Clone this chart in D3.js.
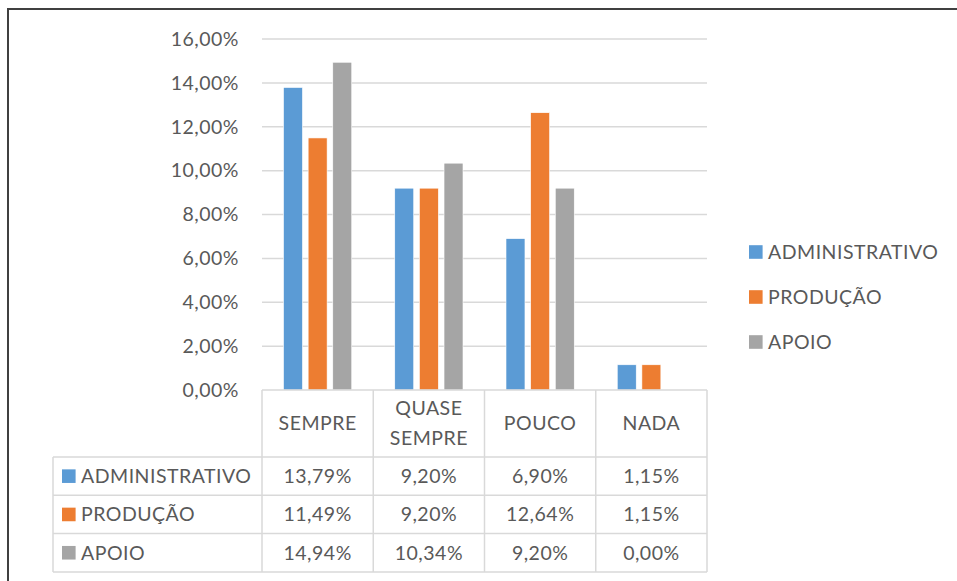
<!DOCTYPE html>
<html>
<head>
<meta charset="utf-8">
<script src="https://cdn.jsdelivr.net/npm/d3@7"></script>
<style>
  body { margin: 0; background: #fff; }
  text { font-family: Lato, "Open Sans", sans-serif; fill: #595959; letter-spacing: 0.5px; }
</style>
</head>
<body>
<div id="chart"></div>
<script>
var categories = ['SEMPRE', 'QUASE SEMPRE', 'POUCO', 'NADA'];
var categoryLines = [['SEMPRE'], ['QUASE', 'SEMPRE'], ['POUCO'], ['NADA']];
var seriesNames = ['ADMINISTRATIVO', 'PRODUÇÃO', 'APOIO'];
var administrativo = [13.79, 9.20, 6.90, 1.15];
var producao = [11.49, 9.20, 12.64, 1.15];
var apoio = [14.94, 10.34, 9.20, 0.00];
var yTicks = [0, 2, 4, 6, 8, 10, 12, 14, 16];
var colors = ['#5b9bd5', '#ed7d31', '#a5a5a5'];

var seriesValues = [administrativo, producao, apoio];

var W = 957, H = 581;
var plotL = 262, plotR = 707, plotT = 39, plotB = 390;
var rowH = 38.3, headerH = 67, tableL = 53;
var fs = '19.5px';

var fmt = function (v) { return v.toFixed(2).replace('.', ',') + '%'; };

var svg = d3.select('#chart').append('svg').attr('width', W).attr('height', H);

// outer border (right and bottom run past the frame)
svg.append('rect')
  .attr('x', 8).attr('y', 9).attr('width', 1000).attr('height', 700)
  .style('fill', 'none').style('stroke', '#404040').style('stroke-width', 2);

var y = d3.scaleLinear().domain([0, 16]).range([plotB, plotT]);
var x0 = d3.scaleBand().domain(categories).range([plotL, plotR]).paddingInner(0).paddingOuter(0);
var x1 = d3.scaleBand().domain(seriesNames).range([21.5, x0.bandwidth() - 21.5]).paddingInner(0.23);

// gridlines
svg.append('g').selectAll('line').data(yTicks.slice(1)).enter().append('line')
  .attr('x1', plotL).attr('x2', plotR)
  .attr('y1', function (d) { return y(d); }).attr('y2', function (d) { return y(d); })
  .style('stroke', '#d9d9d9').style('stroke-width', 1.5);

// y axis labels
var yAxis = d3.axisLeft(y).tickValues(yTicks).tickFormat(fmt).tickSize(0).tickPadding(0);
var yg = svg.append('g').attr('transform', 'translate(' + 239 + ',0)').call(yAxis);
yg.select('.domain').remove();
yg.selectAll('text').style('font-size', fs).style('fill', '#595959')
  .style('font-family', 'Lato, sans-serif');

// bars
var groups = svg.append('g').selectAll('g').data(seriesNames).enter().append('g')
  .style('fill', function (d, i) { return colors[i]; });

groups.selectAll('rect')
  .data(function (d, i) { return seriesValues[i].map(function (v, j) { return { s: d, c: categories[j], v: v }; }); })
  .enter().append('rect')
  .attr('x', function (d) { return x0(d.c) + x1(d.s); })
  .attr('width', x1.bandwidth())
  .attr('y', function (d) { return y(d.v); })
  .attr('height', function (d) { return y(0) - y(d.v); })
  .style('stroke', '#fff').style('stroke-width', 0.6);

// data table
var tg = svg.append('g');
var lineStyle = function (sel) { return sel.style('stroke', '#d9d9d9').style('stroke-width', 1.5); };
var tableB = plotB + headerH + rowH * 3;

// axis line at 0 and header row
lineStyle(tg.append('line').attr('x1', plotL).attr('x2', plotR).attr('y1', plotB).attr('y2', plotB));
var colEdges = categories.map(function (c) { return x0(c); }).concat([plotR]);
colEdges.forEach(function (cx) {
  lineStyle(tg.append('line').attr('x1', cx).attr('x2', cx).attr('y1', plotB).attr('y2', tableB));
});
for (var r = 0; r <= 3; r++) {
  var ry = plotB + headerH + rowH * r;
  lineStyle(tg.append('line').attr('x1', tableL).attr('x2', plotR).attr('y1', ry).attr('y2', ry));
}
lineStyle(tg.append('line').attr('x1', tableL).attr('x2', tableL).attr('y1', plotB + headerH).attr('y2', tableB));

// header labels
categoryLines.forEach(function (lines, i) {
  var cx = x0(categories[i]) + x0.bandwidth() / 2;
  var cy = plotB + headerH / 2;
  lines.forEach(function (ln, k) {
    tg.append('text')
      .attr('x', cx)
      .attr('y', cy + (k - (lines.length - 1) / 2) * 30)
      .attr('dy', '0.35em')
      .attr('text-anchor', 'middle')
      .style('font-size', fs)
      .text(ln);
  });
});

// rows
seriesNames.forEach(function (name, i) {
  var cy = plotB + headerH + rowH * i + rowH / 2;
  tg.append('rect').attr('x', 62).attr('y', cy - 6.8).attr('width', 13.6).attr('height', 13.6)
    .style('fill', colors[i]);
  tg.append('text').attr('x', 81).attr('y', cy).attr('dy', '0.35em')
    .style('font-size', fs).text(name);
  seriesValues[i].forEach(function (v, j) {
    tg.append('text')
      .attr('x', x0(categories[j]) + x0.bandwidth() / 2)
      .attr('y', cy).attr('dy', '0.35em')
      .attr('text-anchor', 'middle')
      .style('font-size', fs)
      .text(fmt(v));
  });
});

// legend
var lg = svg.append('g').attr('transform', 'translate(749,252)');
var li = lg.selectAll('g').data(seriesNames).enter().append('g')
  .attr('transform', function (d, i) { return 'translate(0,' + (i * 45) + ')'; });
li.append('rect').attr('x', 0).attr('y', -6.8).attr('width', 13.6).attr('height', 13.6)
  .style('fill', function (d, i) { return colors[i]; });
li.append('text').attr('x', 19).attr('y', 0).attr('dy', '0.35em')
  .style('font-size', fs).text(function (d) { return d; });
</script>
</body>
</html>
